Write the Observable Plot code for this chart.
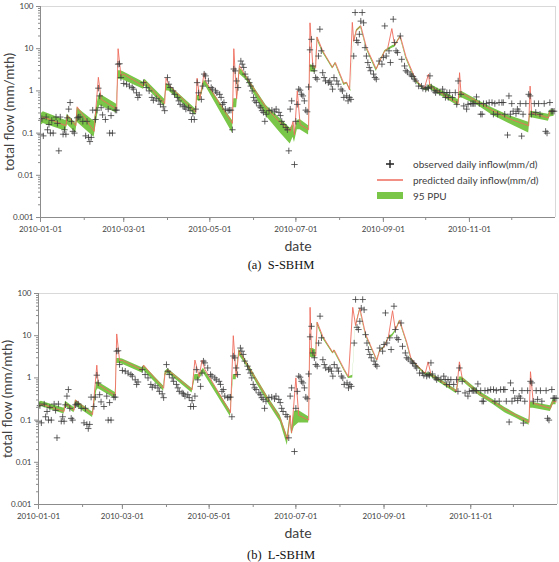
<!DOCTYPE html>
<html>
<head>
<meta charset="utf-8">
<script src="https://cdn.jsdelivr.net/npm/d3@7"></script>
<script src="https://cdn.jsdelivr.net/npm/@observablehq/plot@0.6"></script>
<style>
  body { margin: 0; background: #fff; }
  #wrap { position: relative; width: 559px; height: 562px; overflow: hidden; font-family: Lato, "Open Sans", sans-serif; }
  .panel { position: absolute; left: 0; }
  .cap { position: absolute; left: 0; width: 562px; text-align: center; white-space: pre;
         font-family: "Liberation Serif", "Times New Roman", serif; font-size: 12.5px; line-height: 16px; color: #111; }
  #legend { position: absolute; left: 370px; top: 155px; }
</style>
</head>
<body>
<div id="wrap">
  <div class="panel" id="pa" style="top:0"></div>
  <div class="cap" style="top:257px">(a)  S-SBHM</div>
  <div class="panel" id="pb" style="top:287px"></div>
  <div class="cap" style="top:547px">(b)  L-SBHM</div>
  <svg id="legend" width="185" height="50"></svg>
</div>
<script>
// Days are counted from 2010-01-01 (day 0); flows in mm.

// Observed daily inflow (shared by both models): [day, flow]
const observed = [
  [0,0.094],[1,0.22],[2,0.086],[4,0.24],[5,0.12],[6,0.16],[7,0.1],[8,0.2],[9,0.1],[11,0.24],
  [12,0.17],[13,0.038],[14,0.24],[16,0.094],[17,0.12],[18,0.094],[19,0.23],[20,0.37],[21,0.53],[22,0.19],
  [23,0.11],[24,0.1],[26,0.23],[27,0.24],[28,0.24],[30,0.19],[32,0.086],[33,0.19],[34,0.079],[35,0.063],
  [36,0.079],[37,0.35],[39,0.21],[40,0.35],[41,1.16],[42,0.76],[43,0.4],[44,0.27],[46,0.21],[48,0.37],
  [49,0.1],[50,0.26],[51,0.1],[53,0.35],[54,0.35],[55,4.3],[56,4.4],[57,2.07],[59,1.5],[61,1.44],
  [63,1.3],[65,1.2],[66,1.1],[68,0.9],[69,0.7],[70,0.8],[73,1.57],[75,1.2],[77,1.0],[79,0.7],
  [80,0.6],[82,0.65],[84,0.58],[85,0.48],[87,0.42],[88,0.34],[90,2.07],[91,1.44],[92,1.2],[94,1.0],
  [95,0.83],[97,0.7],[98,0.58],[99,0.48],[101,0.44],[102,0.42],[103,0.37],[105,0.4],[106,0.34],[107,0.21],
  [108,0.29],[109,0.21],[110,0.37],[111,1.57],[112,0.9],[114,0.63],[115,1.3],[116,2.5],[117,2.27],[119,1.72],
  [121,1.2],[122,1.1],[124,1.0],[125,0.9],[127,0.83],[128,0.7],[129,0.48],[130,0.53],[131,0.37],[133,0.34],
  [134,0.35],[135,0.35],[136,0.12],[137,3.3],[138,2.98],[139,1.72],[140,1.2],[142,5.1],[143,4.3],[144,3.6],
  [145,2.5],[147,1.9],[148,1.57],[149,1.3],[150,1.0],[151,0.7],[152,0.58],[153,0.53],[155,0.44],[156,0.4],
  [157,0.34],[158,0.31],[159,0.19],[160,0.28],[162,0.34],[164,0.35],[166,0.32],[167,0.37],[169,0.31],[170,0.26],
  [171,0.19],[172,0.16],[174,0.135],[175,0.12],[176,0.038],[177,0.37],[178,0.58],[180,0.018],[181,0.19],[182,0.48],
  [183,1.1],[184,1.04],[185,0.83],[186,0.76],[187,0.58],[188,0.35],[189,0.32],[190,1.24],[191,9.4],[192,16.7],
  [193,3.9],[194,3.0],[195,2.07],[196,1.9],[197,6.7],[198,29],[199,8.9],[200,2.7],[201,2.07],[202,1.72],
  [204,1.57],[205,1.72],[206,1.44],[207,1.1],[208,2.07],[210,1.72],[211,1.44],[213,1.1],[214,1.0],[215,0.7],
  [217,0.76],[218,0.58],[219,0.7],[220,0.63],[222,6.7],[223,72],[224,15.8],[225,14],[226,22],[227,45],
  [228,72],[229,41],[230,10.6],[231,6.7],[232,4.7],[233,3.6],[234,3.0],[236,2.5],[237,2.07],[238,1.9],
  [240,5.1],[242,4.3],[243,6.2],[244,34.6],[245,6.7],[247,8.9],[248,4.7],[250,50],[251,14],[252,8.9],
  [253,8.1],[255,20],[256,5.6],[258,3.9],[259,3.0],[260,2.8],[262,2.5],[263,2.27],[264,2.2],[265,1.9],
  [266,1.72],[268,1.3],[270,1.3],[271,1.15],[273,1.1],[274,1.2],[275,1.15],[276,2.27],[277,1.24],[279,1.0],
  [280,0.91],[281,1.0],[283,0.91],[285,1.1],[286,0.91],[287,0.7],[288,0.91],[289,0.7],[290,0.91],[292,0.7],
  [294,0.91],[295,0.48],[296,1.72],[298,0.83],[300,0.44],[302,0.37],[303,0.48],[305,0.5],[306,0.5],[307,0.5],
  [308,0.5],[309,0.72],[311,0.5],[312,0.28],[313,0.28],[314,0.5],[316,0.5],[318,0.53],[320,0.53],[321,0.28],
  [322,0.5],[324,0.28],[325,0.53],[327,0.53],[328,0.53],[329,0.28],[331,0.09],[332,0.76],[333,0.28],[334,0.5],
  [335,0.33],[337,0.29],[338,0.37],[339,0.33],[340,0.5],[341,0.085],[342,0.28],[344,0.5],[346,0.83],[347,0.76],
  [348,0.28],[350,0.5],[351,0.31],[353,0.5],[354,0.28],[357,0.5],[358,0.11],[359,0.1],[361,0.53],[362,0.33],
  [363,0.33],[364,0.33]
];

// S-SBHM predicted daily inflow: [day, flow]
const predictedS = [
  [0,0.2],[2,0.24],[18,0.15],[19,0.26],[25,0.15],[26,0.42],[38,0.11],[41,2.1],[43,0.63],[54,0.37],
  [55,10],[57,2.3],[59,2.5],[73,1.3],[74,1.7],[88,0.5],[89,2.0],[91,1.4],[110,0.31],[111,2.0],
  [113,0.64],[116,2.7],[117,1.7],[136,0.17],[137,10],[139,0.65],[141,4.0],[146,2.1],[160,0.4],[169,0.19],
  [174,0.135],[177,0.11],[179,0.19],[180,0.09],[182,1.0],[184,0.16],[190,0.12],[191,41],[193,3.9],[195,3.5],
  [196,19],[200,8.9],[207,3.6],[209,4.7],[215,1.5],[217,1.6],[219,1.05],[221,42],[222,15],[224,28],
  [227,35],[231,10.7],[238,3.3],[240,4.7],[244,8.9],[246,10],[249,30],[251,12],[255,20],[259,6.5],
  [266,1.8],[272,1.15],[275,2.5],[276,1.3],[296,0.5],[297,2.7],[298,0.9],[310,0.55],[320,0.35],[332,0.22],
  [346,0.15],[347,1.3],[348,0.3],[360,0.23],[361,0.33],[364,0.33]
];

// S-SBHM 95 PPU band: [day, lower, upper]
const bandS = [
  [0,0.15,0.28],[2,0.17,0.32],[18,0.11,0.2],[19,0.16,0.28],[25,0.1,0.17],[26,0.18,0.4],[38,0.08,0.19],[41,0.35,0.7],
  [42,0.45,0.85],[54,0.3,0.48],[55,1.9,3.0],[57,1.9,3.0],[59,1.8,2.8],[73,1.1,1.6],[74,1.3,1.9],[88,0.42,0.63],
  [89,1.0,1.5],[91,1.0,1.4],[110,0.26,0.37],[111,0.6,0.8],[113,0.55,0.75],[116,1.3,1.8],[117,1.3,1.7],[136,0.1,0.2],
  [137,0.4,0.65],[139,0.4,0.65],[141,2.5,3.6],[146,1.8,2.3],[160,0.25,0.45],[170,0.1,0.22],[177,0.055,0.13],[179,0.08,0.16],
  [180,0.06,0.1],[182,0.12,0.2],[184,0.12,0.21],[190,0.09,0.15],[191,2.8,4.2],[193,2.8,4.0],[195,2.7,3.8],[196,16,19],
  [200,8,9],[207,3.3,3.7],[209,4.2,4.7],[215,1.35,1.5],[217,1.45,1.6],[220,0.95,1.05],[222,13.5,15],[224,25,28],
  [227,31,35],[231,9.6,10.7],[238,2.9,3.3],[240,4.2,4.7],[244,8,8.9],[246,9,10],[250,10.5,12],[251,10.7,12],
  [255,18,20],[259,5.8,6.5],[266,1.6,1.8],[272,1.03,1.15],[274,1.0,1.2],[276,1.1,1.45],[296,0.44,0.62],[297,0.65,0.95],
  [298,0.7,1.0],[310,0.45,0.6],[320,0.27,0.4],[332,0.17,0.26],[346,0.1,0.18],[347,0.23,0.33],[348,0.23,0.33],[360,0.19,0.28],
  [361,0.24,0.35],[364,0.25,0.36]
];

// L-SBHM predicted daily inflow: [day, flow]
const predictedL = [
  [0,0.21],[2,0.24],[18,0.16],[19,0.25],[25,0.17],[26,0.3],[38,0.135],[41,2.0],[42,0.7],[54,0.38],
  [55,11],[57,2.6],[59,2.6],[73,1.55],[74,2.0],[88,0.57],[89,1.3],[91,1.55],[108,0.52],[110,2.65],
  [113,1.07],[115,2.65],[117,1.6],[135,0.15],[137,10],[139,1.07],[141,4.5],[146,2.3],[161,0.33],[170,0.11],
  [175,0.035],[177,0.13],[178,0.05],[181,1.0],[183,0.13],[190,0.1],[191,47],[192,4.1],[195,3.3],[196,21],
  [200,9.5],[207,4.0],[208,4.6],[215,1.6],[218,1.07],[221,47],[223,17.5],[226,45],[230,11],[238,2.65],
  [240,4.5],[243,5.4],[246,9],[249,39],[251,13.4],[254,23],[259,7],[262,2.9],[266,2.0],[272,1.29],
  [274,2.4],[276,1.2],[294,0.48],[296,2.4],[298,0.98],[310,0.42],[320,0.27],[328,0.18],[336,0.13],[345,0.088],
  [346,1.4],[348,0.25],[360,0.19],[362,0.28],[364,0.27]
];

// L-SBHM 95 PPU band: [day, lower, upper]
const bandL = [
  [0,0.18,0.26],[2,0.21,0.28],[18,0.14,0.19],[19,0.21,0.28],[25,0.15,0.2],[26,0.22,0.3],[38,0.115,0.155],[41,0.5,0.8],
  [42,0.55,0.8],[54,0.32,0.45],[55,2.2,2.9],[57,2.2,2.9],[59,2.1,2.8],[73,1.3,1.75],[74,1.5,2.0],[88,0.48,0.64],
  [89,1.1,1.4],[91,1.3,1.65],[108,0.44,0.56],[110,0.9,1.2],[113,0.9,1.2],[116,1.3,1.7],[135,0.12,0.17],[137,0.9,1.2],
  [139,0.9,1.2],[141,3.5,4.8],[146,2.0,2.6],[161,0.27,0.37],[170,0.09,0.13],[175,0.025,0.042],[177,0.09,0.14],[178,0.045,0.06],
  [180,0.07,0.16],[183,0.085,0.17],[190,0.085,0.12],[191,3.1,5],[193,3,5],[195,2.9,4.6],[196,18,21],[200,8.5,9.5],
  [207,3.7,4.1],[208,4.1,4.6],[215,1.45,1.6],[218,0.97,1.07],[221,1.0,1.15],[223,15.5,17.5],[226,40,45],[230,10,11],
  [238,2.45,2.7],[240,4.1,4.5],[243,5,5.5],[246,8.3,9.1],[249,9.5,11],[251,12,13.5],[254,21,23.5],[259,6.4,7.1],
  [262,2.65,2.95],[266,1.85,2.05],[272,1.15,1.32],[274,1.1,1.3],[276,1.05,1.3],[294,0.42,0.52],[296,0.85,1.05],[298,0.85,1.05],
  [310,0.38,0.48],[320,0.23,0.3],[328,0.15,0.2],[336,0.11,0.14],[345,0.075,0.1],[346,0.19,0.26],[348,0.19,0.26],[360,0.16,0.22],
  [362,0.23,0.31],[364,0.23,0.31]
];

// Axis ticks
const yMajor = [0.001, 0.01, 0.1, 1, 10, 100];
const yLabels = ["0.001", "0.01", "0.1", "1", "10", "100"];
const startDate = new Date(Date.UTC(2010, 0, 1));
const endDate = new Date(Date.UTC(2011, 0, 1));

const toDate = d => d3.utcDay.offset(startDate, d);
const yMinor = yMajor.slice(0, -1).flatMap(v => d3.range(2, 10).map(k => k * v));
const xMajor = d3.utcMonth.every(2).range(startDate, endDate);
const xMinor = d3.utcMonth.range(startDate, endDate);
const yTickText = d => yLabels[yMajor.findIndex(v => Math.abs(v - d) < v * 1e-6)] ?? "";

const RED = "#ee6b5c", GREEN = "#79c648", AXIS = "#8c8c8c", TEXT = "#404040";

function panel(pred, band, {marginLeft, marginRight}) {
  const obs = observed.map(([d, v]) => ({date: toDate(d), value: v}));
  const line = pred.map(([d, v]) => ({date: toDate(d), value: v}));
  const area = band.map(([d, lo, hi]) => ({date: toDate(d), lo, hi}));
  return Plot.plot({
    width: 559,
    height: 255,
    marginTop: 6,
    marginBottom: 38,
    marginLeft,
    marginRight,
    style: {fontFamily: "Lato, 'Open Sans', sans-serif", color: TEXT, background: "transparent"},
    x: {type: "utc", domain: [startDate, endDate], label: null},
    y: {type: "log", domain: [0.001, 100], label: null},
    marks: [
      Plot.ruleY([100], {stroke: "#d9d9d9"}),
      Plot.ruleX([endDate], {stroke: "#d9d9d9"}),
      Plot.areaY(area, {x: "date", y1: "lo", y2: "hi", fill: GREEN}),
      Plot.lineY(line, {x: "date", y: "value", stroke: RED, strokeWidth: 1, strokeOpacity: 0.9}),
      Plot.dot(obs, {x: "date", y: "value", symbol: "plus", r: 2.2, stroke: "#3a3a3a", strokeWidth: 0.8}),
      Plot.ruleY([0.001], {stroke: AXIS}),
      Plot.ruleX([startDate], {stroke: AXIS}),
      Plot.axisY({ticks: yMinor, tickSize: 2, tickFormat: () => "", stroke: AXIS, label: null}),
      Plot.axisY({ticks: yMajor, tickSize: 4, tickPadding: 3, tickFormat: yTickText,
                  fontSize: 8, stroke: AXIS, fill: TEXT, label: null}),
      Plot.axisX({ticks: xMinor, tickSize: 3, tickFormat: () => "", stroke: AXIS, label: null}),
      Plot.axisX({ticks: xMajor, tickSize: 5, tickPadding: 4, tickFormat: d3.utcFormat("%Y-%m-%d"),
                  fontSize: 8, stroke: AXIS, fill: TEXT, label: null}),
      Plot.text(["total flow (mm/mth)"], {frameAnchor: "left", textAnchor: "middle", lineAnchor: "middle",
                  rotate: -90, dx: -31, fontSize: 13.5, fill: TEXT}),
      Plot.text(["date"], {frameAnchor: "bottom", lineAnchor: "middle", dy: 29, fontSize: 14, fill: TEXT})
    ]
  });
}

document.getElementById("pa").append(panel(predictedS, bandS, {marginLeft: 40, marginRight: 4}));
document.getElementById("pb").append(panel(predictedL, bandL, {marginLeft: 38, marginRight: 2}));

// Legend for the upper panel
const legendItems = ["observed daily inflow(mm/d)", "predicted daily inflow(mm/d)", "95 PPU"];
const lg = d3.select("#legend");
lg.append("path").attr("d", "M16,9H24M20,5V13").attr("stroke", "#222").attr("stroke-width", 1.4);
lg.append("line").attr("x1", 7).attr("x2", 33).attr("y1", 25).attr("y2", 25).attr("stroke", RED).attr("stroke-width", 1.5);
lg.append("rect").attr("x", 7).attr("y", 37).attr("width", 26).attr("height", 7).attr("fill", GREEN);
lg.selectAll("text").data(legendItems).join("text")
  .attr("x", 43).attr("y", (d, i) => 9 + 16 * i).attr("dy", "0.35em")
  .attr("font-family", "Lato, 'Open Sans', sans-serif").attr("font-size", 10).attr("fill", TEXT)
  .text(d => d);
</script>
</body>
</html>
